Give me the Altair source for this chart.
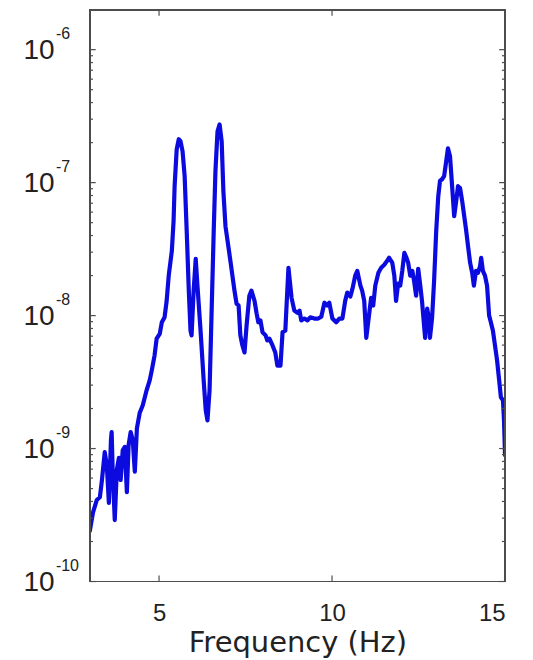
import altair as alt
import pandas as pd

# Frequency (Hz) and spectral density values
freq = [3.00, 3.09, 3.20, 3.29, 3.35, 3.43, 3.49, 3.55, 3.61, 3.63, 3.66, 3.72, 3.78, 3.84, 3.89,
        3.95, 4.01, 4.07, 4.12, 4.18, 4.24, 4.30, 4.36, 4.44, 4.53, 4.64, 4.73, 4.79, 4.87, 4.93,
        5.02, 5.08, 5.16, 5.22, 5.28, 5.37, 5.42, 5.45, 5.51, 5.57, 5.62, 5.68, 5.74, 5.80, 5.86,
        5.91, 5.94, 6.00, 6.06, 6.11, 6.20, 6.29, 6.35, 6.40, 6.46, 6.52, 6.58, 6.63, 6.69, 6.75,
        6.81, 6.86, 6.92, 6.98, 7.07, 7.12, 7.18, 7.24, 7.30, 7.35, 7.41, 7.47, 7.53, 7.61, 7.67,
        7.76, 7.82, 7.87, 7.93, 7.99, 8.08, 8.13, 8.19, 8.28, 8.36, 8.42, 8.51, 8.57, 8.65, 8.74,
        8.83, 8.91, 9.00, 9.06, 9.11, 9.20, 9.29, 9.37, 9.49, 9.60, 9.69, 9.78, 9.86, 9.92, 10.01,
        10.12, 10.21, 10.30, 10.38, 10.44, 10.53, 10.59, 10.67, 10.73, 10.82, 10.87, 10.93, 10.99,
        11.05, 11.13, 11.19, 11.25, 11.34, 11.42, 11.51, 11.59, 11.65, 11.74, 11.80, 11.85, 11.91,
        11.97, 12.03, 12.09, 12.14, 12.20, 12.26, 12.32, 12.37, 12.43, 12.49, 12.55, 12.60, 12.66,
        12.69, 12.75, 12.81, 12.83, 12.89, 12.95, 13.01, 13.07, 13.12, 13.18, 13.24, 13.30, 13.35,
        13.41, 13.47, 13.53, 13.59, 13.64, 13.70, 13.76, 13.82, 13.87, 13.93, 13.99, 14.05, 14.10,
        14.16, 14.22, 14.28, 14.31, 14.36, 14.42, 14.48, 14.54, 14.59, 14.65, 14.71, 14.77, 14.83,
        14.88, 14.94, 14.97, 15.00]

psd = [2.4e-10, 3.3e-10, 4.1e-10, 4.3e-10, 5.8e-10, 9.4e-10, 7.5e-10, 3.9e-10, 1.16e-9, 1.33e-9,
       6.9e-10, 2.9e-10, 6.9e-10, 8.5e-10, 5.8e-10, 9.7e-10, 1.03e-9, 4.7e-10, 1.06e-9, 1.33e-9,
       1.16e-9, 6.7e-10, 1.42e-9, 1.85e-9, 2.12e-9, 2.74e-9, 3.26e-9, 3.87e-9, 5.0e-9, 6.7e-9,
       7.3e-9, 8.9e-9, 9.7e-9, 1.29e-8, 2.0e-8, 3.07e-8, 5.15e-8, 9.4e-8, 1.78e-7, 2.12e-7,
       2.05e-7, 1.72e-7, 1.12e-7, 4.3e-8, 1.54e-8, 7.7e-9, 7.1e-9, 1.54e-8, 2.67e-8, 1.68e-8,
       7.7e-9, 3.26e-9, 1.94e-9, 1.63e-9, 2.74e-9, 1.09e-8, 4.3e-8, 1.22e-7, 2.43e-7, 2.74e-7,
       2.05e-7, 8.6e-8, 4.7e-8, 3.65e-8, 2.5e-8, 2.0e-8, 1.54e-8, 1.23e-8, 1.19e-8, 7.1e-9,
       5.96e-9, 5.28e-9, 8.4e-9, 1.41e-8, 1.54e-8, 1.29e-8, 1.04e-8, 8.9e-9, 9.2e-9, 7.5e-9,
       7.1e-9, 6.5e-9, 6.7e-9, 5.96e-9, 5.28e-9, 4.2e-9, 4.2e-9, 7.5e-9, 7.7e-9, 2.29e-8,
       1.36e-8, 1.09e-8, 1.05e-8, 1.09e-8, 9.2e-9, 9.5e-9, 9.2e-9, 9.7e-9, 9.5e-9, 9.5e-9,
       9.8e-9, 1.25e-8, 1.19e-8, 1.25e-8, 9.5e-9, 8.9e-9, 9.5e-9, 9.5e-9, 1.29e-8, 1.49e-8,
       1.39e-8, 1.59e-8, 2.0e-8, 2.17e-8, 1.68e-8, 1.54e-8, 1.29e-8, 6.8e-9, 9.2e-9, 1.36e-8,
       1.19e-8, 1.68e-8, 2.1e-8, 2.29e-8, 2.41e-8, 2.58e-8, 2.72e-8, 2.5e-8, 2.0e-8, 1.29e-8,
       1.74e-8, 1.68e-8, 2.17e-8, 2.96e-8, 2.77e-8, 2.5e-8, 2.0e-8, 2.17e-8, 1.83e-8, 1.41e-8,
       2.25e-8, 1.68e-8, 1.29e-8, 8.4e-9, 6.8e-9, 1.13e-8, 9.2e-9, 6.8e-9, 9.5e-9, 1.83e-8,
       4.3e-8, 7.9e-8, 1.03e-7, 1.06e-7, 1.12e-7, 1.45e-7, 1.81e-7, 1.58e-7, 9.4e-8, 5.6e-8,
       7.3e-8, 9.4e-8, 9.1e-8, 7.3e-8, 5.6e-8, 4.5e-8, 3.34e-8, 2.5e-8, 2.1e-8, 1.68e-8,
       2.17e-8, 2.1e-8, 2.37e-8, 2.72e-8, 2.17e-8, 2.0e-8, 1.68e-8, 1.0e-8, 8.9e-9, 7.7e-9,
       5.96e-9, 4.6e-9, 3.26e-9, 2.43e-9, 2.31e-9, 1.63e-9, 8.9e-10]

x_domain = [3, 15]
x_tick_values = [5, 10, 15]
x_inner_ticks = [5, 10]
y_domain = [1e-10, 2e-6]
y_tick_values = [1e-10, 1e-9, 1e-8, 1e-7, 1e-6]
y_exponents = ["-10", "-9", "-8", "-7", "-6"]
minor_mantissas = [2, 3, 4, 5, 6, 7, 8, 9]
y_minor_values = [m * d for d in y_tick_values[:-1] for m in minor_mantissas]

W, H = 416, 573
FRAME = "#4d4d4d"
TEXT = "#222222"

# inward tick lengths, expressed in axis units
major_len_hz, minor_len_hz = 0.17, 0.09
x_tick_bottom = [1e-10, 1.11e-10]
x_tick_top = [1.8e-6, 2e-6]

xs = alt.Scale(domain=x_domain, nice=False, zero=False)
ys = alt.Scale(type="log", domain=y_domain, nice=False)

x_axis = alt.Axis(
    values=x_tick_values, title="Frequency (Hz)", grid=False, ticks=False, domain=False,
    labelFont="Liberation Sans", labelFontSize=24, labelColor=TEXT,
    labelBaseline="alphabetic", labelPadding=39,
    titleFont="DejaVu Sans", titleFontSize=29, titleFontWeight="normal", titleColor=TEXT,
    titleBaseline="alphabetic", titleY=70)
y_axis = alt.Axis(
    values=y_tick_values, labelExpr="'10'", title=None, grid=False, ticks=False,
    domain=False, labelFont="Liberation Sans", labelFontSize=28, labelColor=TEXT,
    labelAlign="left", labelPadding=67, labelBaseline="middle", labelOffset=1)

df = pd.DataFrame({"f": freq, "p": psd})
major_df = pd.DataFrame({"p": y_tick_values, "e": y_exponents})

ytick_rows = []
for v in y_tick_values:
    ytick_rows.append({"p": v, "x0": x_domain[0], "x1": x_domain[0] + major_len_hz})
    ytick_rows.append({"p": v, "x0": x_domain[1] - major_len_hz, "x1": x_domain[1]})
for v in y_minor_values:
    ytick_rows.append({"p": v, "x0": x_domain[0], "x1": x_domain[0] + minor_len_hz})
    ytick_rows.append({"p": v, "x0": x_domain[1] - minor_len_hz, "x1": x_domain[1]})
ytick_df = pd.DataFrame(ytick_rows)

xtick_rows = []
for f in x_inner_ticks:
    xtick_rows.append({"f": f, "y0": x_tick_bottom[0], "y1": x_tick_bottom[1]})
    xtick_rows.append({"f": f, "y0": x_tick_top[0], "y1": x_tick_top[1]})
xtick_df = pd.DataFrame(xtick_rows)

yticks = alt.Chart(ytick_df).mark_rule(color=FRAME, strokeWidth=1.2).encode(
    y=alt.Y("p:Q", scale=ys, axis=None),
    x=alt.X("x0:Q", scale=xs, axis=None),
    x2="x1:Q",
)
xticks = alt.Chart(xtick_df).mark_rule(color=FRAME, strokeWidth=1.2).encode(
    x=alt.X("f:Q", scale=xs, axis=None),
    y=alt.Y("y0:Q", scale=ys, axis=None),
    y2="y1:Q",
)

# plot-area frame
frame = [
    alt.Chart(df).mark_rule(color=FRAME, strokeWidth=1.2).encode(
        x=alt.value(0), x2=alt.value(W), y=alt.value(0)),
    alt.Chart(df).mark_rule(color=FRAME, strokeWidth=1.2).encode(
        x=alt.value(0), x2=alt.value(W), y=alt.value(H)),
    alt.Chart(df).mark_rule(color=FRAME, strokeWidth=1.2).encode(
        y=alt.value(0), y2=alt.value(H), x=alt.value(0)),
    alt.Chart(df).mark_rule(color=FRAME, strokeWidth=1.2).encode(
        y=alt.value(0), y2=alt.value(H), x=alt.value(W)),
]

exponents = alt.Chart(major_df).mark_text(
    font="Liberation Sans", fontSize=16, color=TEXT, align="left", baseline="alphabetic", dy=-11
).encode(
    y=alt.Y("p:Q", scale=ys, axis=None), x=alt.value(-34), text="e:N")

line = alt.Chart(df).mark_line(
    color="#0b0be0", strokeWidth=4.2, strokeJoin="round", strokeCap="round", clip=True
).encode(
    x=alt.X("f:Q", scale=xs, axis=x_axis),
    y=alt.Y("p:Q", scale=ys, axis=y_axis),
)

chart = alt.layer(
    line, yticks, xticks, exponents, *frame
).resolve_axis(
    x="independent", y="independent"
).properties(
    width=W, height=H,
    background="white",
    autosize=alt.AutoSizeParams(type="none"),
    padding={"left": 82, "top": 1, "right": 20, "bottom": 76},
).configure_view(strokeWidth=0)

chart.save("out.html", embed_options={"renderer": "svg", "actions": False})
